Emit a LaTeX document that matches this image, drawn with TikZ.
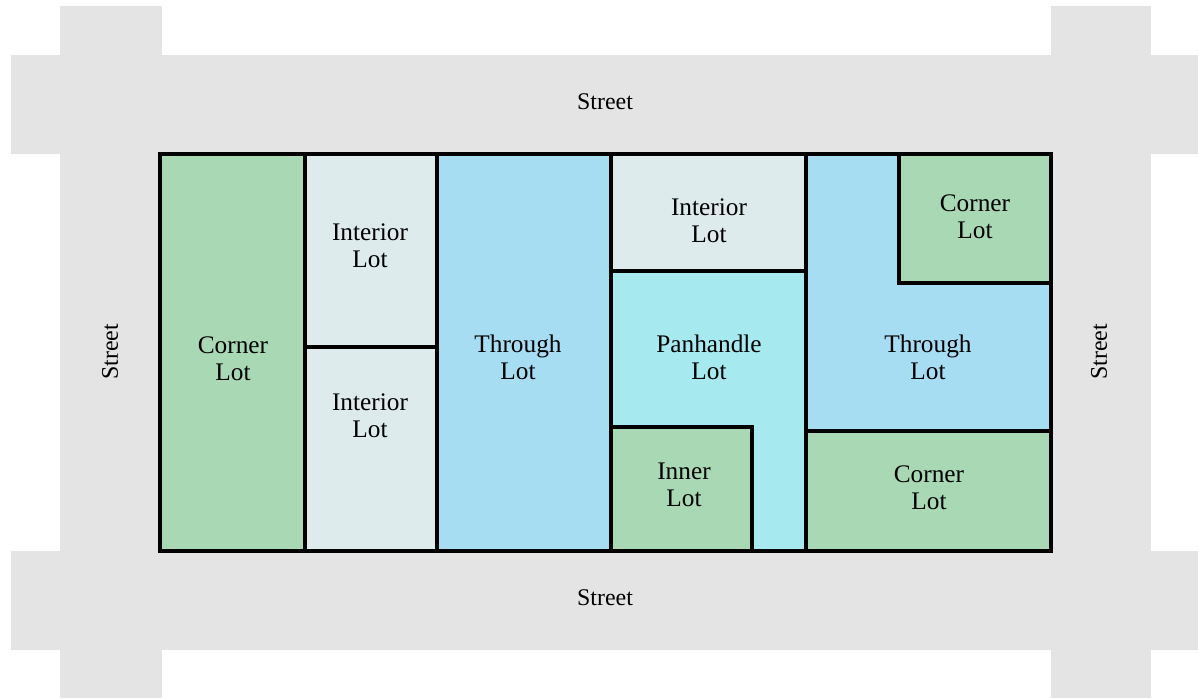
\documentclass[tikz,border=0pt]{standalone}
\usepackage{fontspec}
\setmainfont{Liberation Serif}
\usetikzlibrary{positioning}

\definecolor{streetgray}{HTML}{E4E4E4}
\definecolor{cornergreen}{HTML}{A8D8B4}
\definecolor{interiorgray}{HTML}{DDEBEC}
\definecolor{throughblue}{HTML}{A6DDF3}
\definecolor{panhandlecyan}{HTML}{A6EAF0}

\begin{document}
\begin{tikzpicture}[x=0.025cm, y=-0.025cm,
    lot/.style={draw=black, line width=2.5pt},
    lbl/.style={align=center, font=\fontsize{18}{19}\selectfont},
    streetlbl/.style={font=\fontsize{17}{19}\selectfont}]

    \useasboundingbox (0,0) rectangle (1198,698);

    % Streets
    \fill[streetgray] (60,6) rectangle (162,698);
    \fill[streetgray] (1051,6) rectangle (1151,698);
    \fill[streetgray] (11,55) rectangle (1198,154);
    \fill[streetgray] (11,551) rectangle (1198,650);

    \node[streetlbl] (streetN) at (605,102) {Street};
    \node[streetlbl] (streetS) at (605,598) {Street};
    \node[streetlbl, rotate=90] (streetW) at (110,352) {Street};
    \node[streetlbl, rotate=90] (streetE) at (1099,352) {Street};

    % Lots
    \draw[lot, fill=cornergreen] (160,154) rectangle (305,551);
    \draw[lot, fill=interiorgray] (305,154) rectangle (437,347);
    \draw[lot, fill=interiorgray] (305,347) rectangle (437,551);
    \draw[lot, fill=throughblue] (437,154) rectangle (611,551);
    \draw[lot, fill=interiorgray] (611,154) rectangle (806,271);
    \draw[lot, fill=panhandlecyan] (611,271) -- (806,271) -- (806,551) -- (611,551) -- cycle;
    \draw[lot, fill=cornergreen] (611,427) rectangle (752,551);
    \draw[lot, fill=throughblue] (806,154) -- (1051,154) -- (1051,431) -- (806,431) -- cycle;
    \draw[lot, fill=cornergreen] (899,154) rectangle (1051,283);
    \draw[lot, fill=cornergreen] (806,431) rectangle (1051,551);

    % Block outline
    \draw[lot] (160,154) rectangle (1051,551);

    % Lot labels
    \node[lbl] (cornerW) at (233,359) {Corner\\Lot};
    \node[lbl] (interiorA) at (370,246) {Interior\\Lot};
    \node[lbl] (interiorB) at (370,416) {Interior\\Lot};
    \node[lbl] (throughA) at (518,357) {Through\\Lot};
    \node[lbl] (interiorC) at (709,221) {Interior\\Lot};
    \node[lbl] (panhandle) at (709,357) {Panhandle\\Lot};
    \node[lbl] (inner) at (684,485) {Inner\\Lot};
    \node[lbl] (cornerNE) at (975,217) {Corner\\Lot};
    \node[lbl] (throughB) at (928,357) {Through\\Lot};
    \node[lbl] (cornerSE) at (929,488) {Corner\\Lot};

\end{tikzpicture}
\end{document}
